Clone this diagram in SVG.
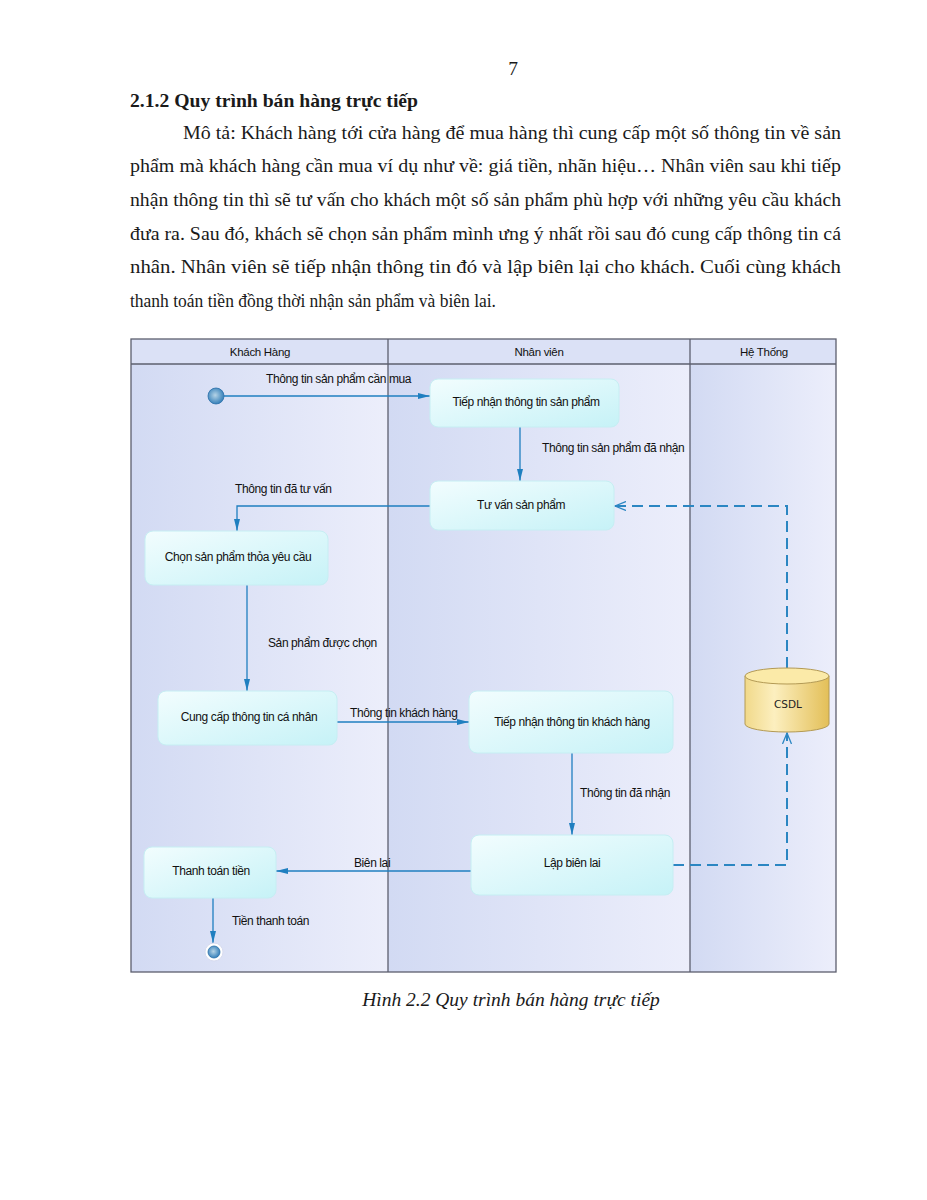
<svg xmlns="http://www.w3.org/2000/svg" width="927" height="1200" viewBox="0 0 927 1200">
<defs>
<style>
.doc{font-family:"Liberation Serif","Times New Roman",serif;font-size:19.5px;fill:#1a1a1a}
.lbl{font-family:"Liberation Sans",Arial,sans-serif;font-size:12px;fill:#111;letter-spacing:-0.4px}
.ntx{font-family:"Liberation Sans",Arial,sans-serif;font-size:12px;fill:#111;letter-spacing:-0.4px;text-anchor:middle}
.hdr{font-family:"Liberation Sans",Arial,sans-serif;font-size:11.5px;fill:#111;letter-spacing:-0.3px;text-anchor:middle}
.node{fill:url(#nodeG);stroke:#c6eef3;stroke-width:1}
.flow{fill:none;stroke:#1f7fc0;stroke-width:1.3}
.dash{fill:none;stroke:#2b86c2;stroke-width:2;stroke-dasharray:11 6}
.lane{stroke:#5c5f6e;stroke-width:1.3}
</style>
<linearGradient id="laneG" x1="0" y1="0" x2="1" y2="0">
<stop offset="0" stop-color="#d2daf3"/>
<stop offset="1" stop-color="#eceefb"/>
</linearGradient>
<linearGradient id="nodeG" x1="0" y1="0" x2="1" y2="1">
<stop offset="0" stop-color="#f2fdfe"/>
<stop offset="1" stop-color="#c6f2f7"/>
</linearGradient>
<linearGradient id="dbG" x1="0" y1="0" x2="1" y2="0">
<stop offset="0" stop-color="#f1d98a"/>
<stop offset="0.35" stop-color="#fcefbf"/>
<stop offset="1" stop-color="#e3bf58"/>
</linearGradient>
<radialGradient id="startG" cx="0.45" cy="0.45" r="0.6">
<stop offset="0" stop-color="#b5d3e6"/>
<stop offset="1" stop-color="#2a79b6"/>
</radialGradient>
<marker id="arr" viewBox="0 0 12 8" refX="12" refY="4" markerWidth="12" markerHeight="8" markerUnits="userSpaceOnUse" orient="auto">
<path d="M0,1 L12,4 L0,7 Z" fill="#1f7fc0"/>
</marker>
<marker id="open" viewBox="0 0 12 10" refX="11" refY="5" markerWidth="12" markerHeight="10" markerUnits="userSpaceOnUse" orient="auto">
<path d="M0,0.5 L11,5 L0,9.5" fill="none" stroke="#2b86c2" stroke-width="1.3"/>
</marker>
</defs>
<rect width="927" height="1200" fill="#ffffff"/>

<g id="page-text">
<text class="doc" x="513" y="75" text-anchor="middle">7</text>
<text class="doc" x="130" y="107" font-weight="bold" textLength="288" lengthAdjust="spacingAndGlyphs">2.1.2 Quy trình bán hàng trực tiếp</text>
<text class="doc" x="183" y="139" textLength="658" lengthAdjust="spacingAndGlyphs">Mô tả: Khách hàng tới cửa hàng để mua hàng thì cung cấp một số thông tin về sản</text>
<text class="doc" x="130" y="172" textLength="711" lengthAdjust="spacingAndGlyphs">phẩm mà khách hàng cần mua ví dụ như về: giá tiền, nhãn hiệu… Nhân viên sau khi tiếp</text>
<text class="doc" x="130" y="206" textLength="711" lengthAdjust="spacingAndGlyphs">nhận thông tin thì sẽ tư vấn cho khách một số sản phẩm phù hợp với những yêu cầu khách</text>
<text class="doc" x="130" y="240" textLength="711" lengthAdjust="spacingAndGlyphs">đưa ra. Sau đó, khách sẽ chọn sản phẩm mình ưng ý nhất rồi sau đó cung cấp thông tin cá</text>
<text class="doc" x="130" y="273" textLength="711" lengthAdjust="spacingAndGlyphs">nhân. Nhân viên sẽ tiếp nhận thông tin đó và lập biên lại cho khách. Cuối cùng khách</text>
<text class="doc" x="130" y="307" textLength="366" lengthAdjust="spacingAndGlyphs">thanh toán tiền đồng thời nhận sản phẩm và biên lai.</text>
<text class="doc" x="511" y="1006" text-anchor="middle" font-style="italic" font-size="19.7px">Hình 2.2 Quy trình bán hàng trực tiếp</text>
</g>

<g id="swimlanes">
<rect x="131" y="339" width="257" height="633" fill="url(#laneG)"/>
<rect x="388" y="339" width="302" height="633" fill="url(#laneG)"/>
<rect x="690" y="339" width="146" height="633" fill="url(#laneG)"/>
<rect x="131" y="339" width="705" height="25" fill="#dbe1f6"/>
<line class="lane" x1="131" y1="364" x2="836" y2="364"/>
<line class="lane" x1="388" y1="339" x2="388" y2="972"/>
<line class="lane" x1="690" y1="339" x2="690" y2="972"/>
<rect class="lane" x="131" y="339" width="705" height="633" fill="none"/>
<text class="hdr" x="260" y="356">Khách Hàng</text>
<text class="hdr" x="539" y="356">Nhân viên</text>
<text class="hdr" x="764" y="356">Hệ Thống</text>
</g>

<g id="connectors">
<path class="flow" d="M224,396 H430" marker-end="url(#arr)"/>
<path class="flow" d="M520,427 V481" marker-end="url(#arr)"/>
<path class="flow" d="M430,506 H237 V531" marker-end="url(#arr)"/>
<path class="flow" d="M247,585 V691" marker-end="url(#arr)"/>
<path class="flow" d="M337,722 H469" marker-end="url(#arr)"/>
<path class="flow" d="M572,753 V835" marker-end="url(#arr)"/>
<path class="flow" d="M471,871 H276" marker-end="url(#arr)"/>
<path class="flow" d="M213,898 V943" marker-end="url(#arr)"/>
<path class="dash" d="M673,865 H787 V733" marker-end="url(#open)"/>
<path class="dash" d="M787,668 V506 H615" marker-end="url(#open)"/>
<text class="lbl" x="266" y="383">Thông tin sản phẩm cần mua</text>
<text class="lbl" x="542" y="452">Thông tin sản phẩm đã nhận</text>
<text class="lbl" x="235" y="493">Thông tin đã tư vấn</text>
<text class="lbl" x="268" y="647">Sản phẩm được chọn</text>
<text class="lbl" x="350" y="717">Thông tin khách hàng</text>
<text class="lbl" x="580" y="797">Thông tin đã nhận</text>
<text class="lbl" x="354" y="867">Biên lai</text>
<text class="lbl" x="232" y="925">Tiền thanh toán</text>
</g>

<g id="start">
<circle cx="216" cy="396" r="8" fill="url(#startG)" stroke="#2a6fa8" stroke-width="0.8"/>
</g>
<g id="tiep-nhan-sp">
<rect class="node" x="430" y="379" width="189" height="48" rx="8"/>
<text class="ntx" x="526" y="406">Tiếp nhận thông tin sản phẩm</text>
</g>
<g id="tu-van">
<rect class="node" x="430" y="481" width="184" height="49" rx="8"/>
<text class="ntx" x="521" y="509">Tư vấn sản phẩm</text>
</g>
<g id="chon-sp">
<rect class="node" x="145" y="531" width="183" height="54" rx="8"/>
<text class="ntx" x="238" y="561">Chọn sản phẩm thỏa yêu cầu</text>
</g>
<g id="cung-cap">
<rect class="node" x="158" y="691" width="179" height="54" rx="8"/>
<text class="ntx" x="249" y="721">Cung cấp thông tin cá nhân</text>
</g>
<g id="tiep-nhan-kh">
<rect class="node" x="469" y="691" width="204" height="62" rx="8"/>
<text class="ntx" x="572" y="726">Tiếp nhận thông tin khách hàng</text>
</g>
<g id="lap-bien-lai">
<rect class="node" x="471" y="835" width="202" height="60" rx="8"/>
<text class="ntx" x="572" y="867">Lập biên lai</text>
</g>
<g id="thanh-toan">
<rect class="node" x="144" y="847" width="132" height="51" rx="8"/>
<text class="ntx" x="211" y="875">Thanh toán tiền</text>
</g>
<g id="csdl">
<path d="M745,676 V724 A42,8 0 0 0 829,724 V676 Z" fill="url(#dbG)" stroke="#b39a55" stroke-width="1"/>
<ellipse cx="787" cy="676" rx="42" ry="8" fill="#fbeaa8" stroke="#b39a55" stroke-width="1"/>
<text x="788" y="708" text-anchor="middle" font-family="DejaVu Sans, sans-serif" font-size="10.5px" fill="#222">CSDL</text>
</g>
<g id="end">
<circle cx="214" cy="952" r="9" fill="#ffffff" stroke="#d8dcef" stroke-width="1"/>
<circle cx="214" cy="952" r="6" fill="url(#startG)" stroke="#2a6fa8" stroke-width="0.8"/>
</g>
</svg>
